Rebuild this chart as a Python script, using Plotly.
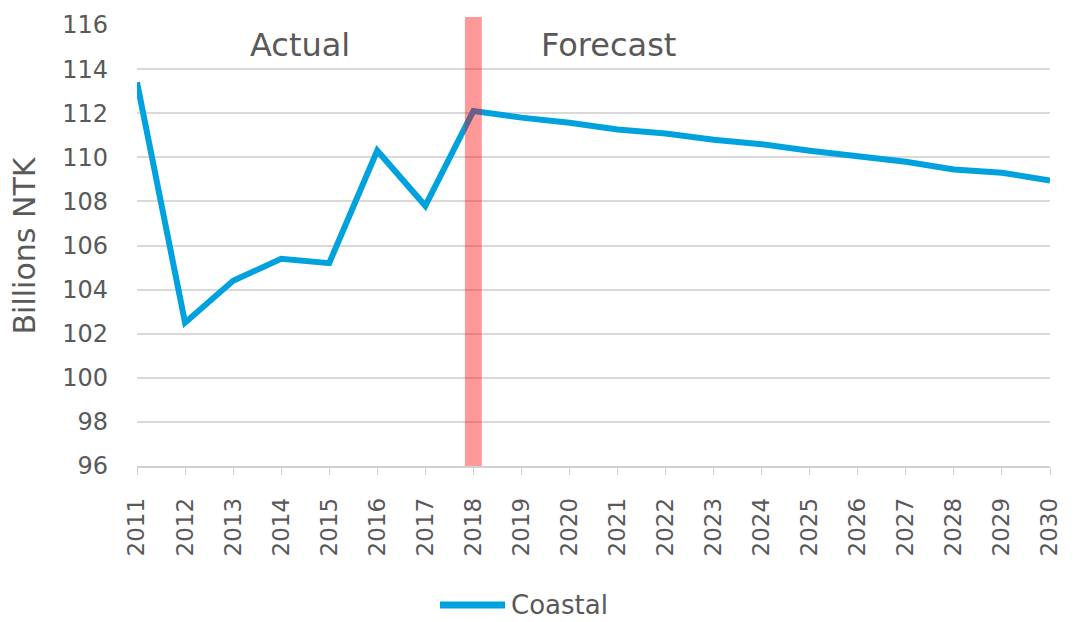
import plotly.graph_objects as go

years = list(range(2011, 2031))
coastal = [113.4, 102.5, 104.4, 105.4, 105.2, 110.3, 107.8, 112.1, 111.8, 111.57,
           111.26, 111.08, 110.8, 110.59, 110.3, 110.03, 109.8, 109.45, 109.3, 108.95]
y_ticks = list(range(96, 117, 2))
split_year = 2018
phase_labels = ["Actual", "Forecast"]
phase_x = [2014.4, 2020.82]
series_name = "Coastal"
y_title = "Billions NTK"

FONT = "DejaVu Sans, Verdana, sans-serif"
GREY = "#595959"
BLUE = "#00A2DE"

fig = go.Figure()
fig.add_trace(go.Scatter(
    x=years, y=coastal, mode="lines", name=series_name,
    line=dict(color=BLUE, width=6), showlegend=False,
))

# Divider between actual and forecast periods (semi-transparent, drawn over the line)
fig.add_shape(type="rect", xref="x", yref="paper",
              x0=split_year - 0.175, x1=split_year + 0.175, y0=0, y1=1.018,
              fillcolor="rgba(255,0,0,0.4)", line=dict(width=0), layer="above")

for label, xp in zip(phase_labels, phase_x):
    fig.add_annotation(x=xp, y=115.1, text=label, showarrow=False,
                       font=dict(family=FONT, size=32, color=GREY))

# Axis title, rotated
fig.add_annotation(xref="paper", yref="paper", x=-0.1227, y=0.5, text=y_title,
                   textangle=-90, showarrow=False, xanchor="center", yanchor="middle",
                   font=dict(family=FONT, size=30, color=GREY))

# Legend: swatch + label below the axis
legend_y = (466 - 605) / 441
fig.add_shape(type="line", xref="paper", yref="paper",
              x0=(440 - 137) / 913, x1=(505 - 137) / 913,
              y0=legend_y, y1=legend_y,
              line=dict(color=BLUE, width=7))
fig.add_annotation(xref="paper", yref="paper", x=(509 - 137) / 913, y=legend_y,
                   text=series_name, showarrow=False, xanchor="left", yanchor="middle",
                   font=dict(family=FONT, size=26, color=GREY))

fig.update_layout(
    width=1075, height=622,
    margin=dict(l=137, r=25, t=25, b=156, autoexpand=False),
    paper_bgcolor="white", plot_bgcolor="white",
    font=dict(family=FONT, size=24, color=GREY),
    showlegend=False,
    xaxis=dict(
        range=[2011, 2030], tickmode="array", tickvals=years,
        ticktext=[str(y) for y in years], tickangle=-90,
        showgrid=False, showline=True, linecolor="#d0d0d0", linewidth=1.5,
        ticks="outside", ticklen=7, tickcolor="#d0d0d0",
        ticklabelstandoff=14,
        tickfont=dict(family=FONT, size=23, color=GREY),
        zeroline=False, automargin=False,
    ),
    yaxis=dict(
        range=[96, 116], tickmode="array", tickvals=y_ticks,
        showgrid=True, gridcolor="#d9d9d9", gridwidth=1.5,
        zeroline=False, showline=False, ticks="",
        ticklabelstandoff=28,
        tickfont=dict(family=FONT, size=24, color=GREY),
        automargin=False,
    ),
)

fig.write_html("out.html")
